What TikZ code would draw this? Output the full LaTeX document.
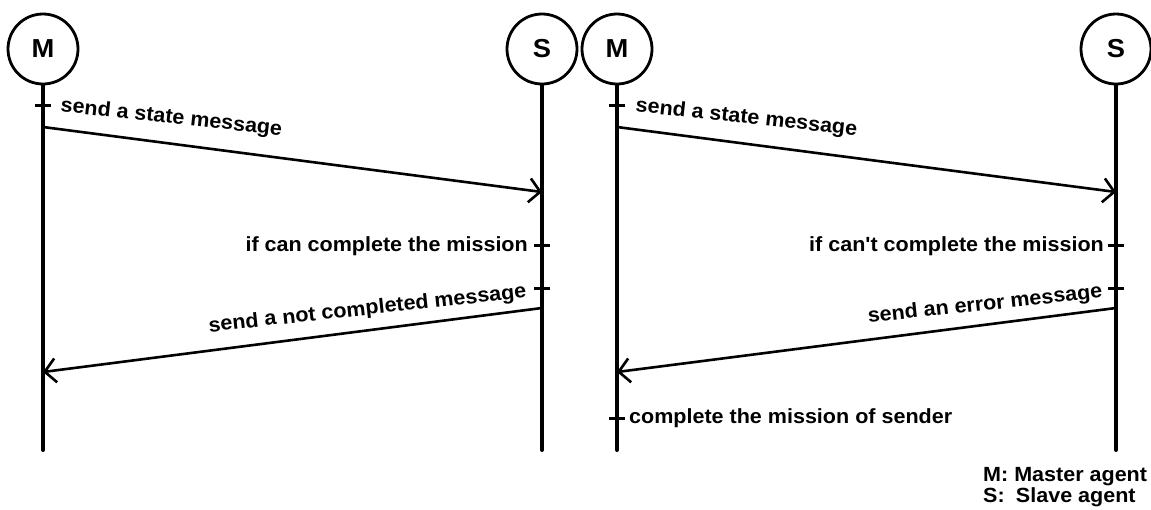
\documentclass[tikz,border=0pt]{standalone}
\usepackage{fontspec}
\setmainfont{Liberation Sans}[FakeStretch=1.05,Ligatures=TeXOff]
\usetikzlibrary{arrows.meta}
\begin{document}
\begin{tikzpicture}[x=1pt,y=-1pt,
  actor/.style={circle,draw,line width=2.8pt,minimum size=70pt,inner sep=0pt,
    font=\fontsize{26}{26}\selectfont\bfseries},
  life/.style={line width=4pt,line cap=round},
  msg/.style={line width=2.6pt,-{Straight Barb[length=11pt,width=24pt,line width=2.6pt]}},
  tick/.style={line width=3pt},
  lbl/.style={inner sep=0pt,font=\fontsize{20.5}{20.5}\selectfont\bfseries},
]
\useasboundingbox (0,0) rectangle (1151,509);

% ---------- left diagram ----------
\node[actor] (M1) at (43,49) {M};
\node[actor] (S1) at (542,49) {S};
\coordinate (M1b) at (43,450);
\coordinate (S1b) at (542,450);
\draw[life] (M1.south) -- (M1b);
\draw[life] (S1.south) -- (S1b);

\coordinate (tm1) at (43,105);
\draw[tick] (tm1) ++(-8,0) -- ++(16,0);
\node[lbl,anchor=base west,rotate=-6.2] (l1) at (60,111.5) {send a state message};
\coordinate (a1s) at (43,127);
\coordinate (a1e) at (542,192);
\draw[msg] (a1s) -- (a1e);

\coordinate (ts1) at (542,245);
\draw[tick] (ts1) ++(-8,0) -- ++(16,0);
\node[lbl,anchor=base east] (l2) at (528,251.5) {if can complete the mission};

\coordinate (ts2) at (542,288);
\draw[tick] (ts2) ++(-8,0) -- ++(16,0);
\node[lbl,anchor=base east,rotate=6.2] (l3) at (527,297.5) {send a not completed message};
\coordinate (a2s) at (542,308);
\coordinate (a2e) at (43,372);
\draw[msg] (a2s) -- (a2e);

% ---------- right diagram ----------
\node[actor] (M2) at (617,49) {M};
\node[actor] (S2) at (1116,49) {S};
\coordinate (M2b) at (617,450);
\coordinate (S2b) at (1116,450);
\draw[life] (M2.south) -- (M2b);
\draw[life] (S2.south) -- (S2b);

\coordinate (tm2) at (617,105);
\draw[tick] (tm2) ++(-8,0) -- ++(16,0);
\node[lbl,anchor=base west,rotate=-6.2] (r1) at (635,111.5) {send a state message};
\coordinate (b1s) at (617,127);
\coordinate (b1e) at (1116,192);
\draw[msg] (b1s) -- (b1e);

\coordinate (ts3) at (1116,245);
\draw[tick] (ts3) ++(-8,0) -- ++(16,0);
\node[lbl,anchor=base east] (r2) at (1104,251.5) {if can't complete the mission};

\coordinate (ts4) at (1116,288);
\draw[tick] (ts4) ++(-8,0) -- ++(16,0);
\node[lbl,anchor=base east,rotate=6.2] (r3) at (1103,297.5) {send an error message};
\coordinate (b2s) at (1116,308);
\coordinate (b2e) at (617,372);
\draw[msg] (b2s) -- (b2e);

\coordinate (tm3) at (617,418);
\draw[tick] (tm3) ++(-8,0) -- ++(16,0);
\node[lbl,anchor=base west] (r4) at (629,423.5) {complete the mission of sender};

% ---------- legend ----------
\node[lbl,anchor=north west,align=left,font=\fontsize{20.5}{18}\selectfont\bfseries] (leg) at (983,467.5)
  {M: Master agent\\S:\hspace{0.55em}Slave agent};
\end{tikzpicture}
\end{document}
